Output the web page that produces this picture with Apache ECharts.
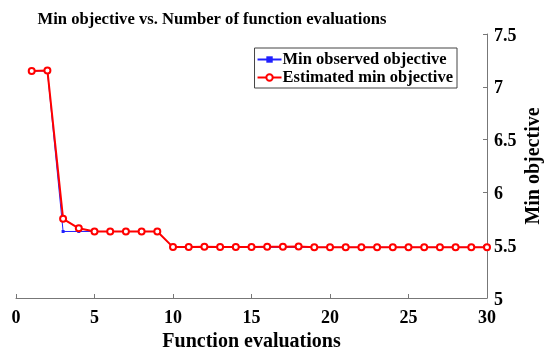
<!DOCTYPE html>
<html>
<head>
<meta charset="utf-8">
<script src="https://cdn.jsdelivr.net/npm/echarts@6/dist/echarts.min.js"></script>
<style>html,body{margin:0;padding:0;background:#fff}#c{width:550px;height:359px}</style>
</head>
<body>
<div id="c"></div>
<script>
const evals = [1,2,3,4,5,6,7,8,9,10,11,12,13,14,15,16,17,18,19,20,21,22,23,24,25,26,27,28,29,30];
const minObserved = [7.15,7.15,5.63,5.63,5.63,5.63,5.63,5.63,5.63,5.48,5.48,5.48,5.48,5.48,5.48,5.48,5.48,5.48,5.48,5.48,5.48,5.48,5.48,5.48,5.48,5.48,5.48,5.48,5.48,5.48];
const estimatedMin = [7.15,7.155,5.75,5.66,5.63,5.63,5.63,5.63,5.63,5.482,5.483,5.485,5.482,5.482,5.483,5.485,5.485,5.487,5.481,5.481,5.481,5.481,5.481,5.48,5.48,5.48,5.48,5.48,5.48,5.48];
const xTicks = [0,5,10,15,20,25,30];
const yTicks = [5,5.5,6,6.5,7,7.5];

const font = '"Liberation Serif","Times New Roman",serif';
const chart = echarts.init(document.getElementById('c'), null, {renderer:'canvas'});
chart.setOption({
  animation:false,
  title:{text:'Min objective vs. Number of function evaluations', left:207, top:6, textAlign:'center',
    textStyle:{fontFamily:font, fontWeight:'bold', fontSize:16.6, color:'#000'}},
  grid:{left:16, right:63, top:34, bottom:61, containLabel:false, outerBoundsMode:'none'},
  legend:{right:93, top:48, orient:'vertical', itemGap:1, itemWidth:24, itemHeight:8,
    borderColor:'#444', borderWidth:1, padding:[3,4,2,2], backgroundColor:'#fff',
    textStyle:{fontFamily:font, fontWeight:'bold', fontSize:16.5, color:'#000', padding:[0,0,0,-4]},
    data:['Min observed objective','Estimated min objective']},
  xAxis:{type:'value', min:xTicks[0], max:xTicks[xTicks.length-1], interval:5,
    name:'Function evaluations', nameLocation:'middle', nameGap:34, nameMoveOverlap:false,
    nameTextStyle:{fontFamily:font, fontWeight:'bold', fontSize:20, color:'#000'},
    axisLine:{show:true, onZero:false, lineStyle:{color:'#777'}},
    axisTick:{show:true, inside:true, length:4, lineStyle:{color:'#777'}},
    axisLabel:{fontFamily:font, fontWeight:'bold', fontSize:18, color:'#000', margin:11},
    splitLine:{show:false}},
  yAxis:{type:'value', position:'right', min:yTicks[0], max:yTicks[yTicks.length-1], interval:0.5,
    name:'Min objective', nameLocation:'middle', nameGap:37, nameRotate:90, nameMoveOverlap:false,
    nameTextStyle:{fontFamily:font, fontWeight:'bold', fontSize:20, color:'#000'},
    axisLine:{show:true, onZero:false, lineStyle:{color:'#777'}},
    axisTick:{show:true, inside:true, length:4, lineStyle:{color:'#777'}},
    axisLabel:{fontFamily:font, fontWeight:'bold', fontSize:18, color:'#000', margin:7,
      verticalAlign:'top', padding:[-7,0,0,0]},
    splitLine:{show:false}},
  series:[
    {name:'Min observed objective', type:'line', data:evals.map((x,i)=>[x,minObserved[i]]),
      symbol:'rect', symbolSize:3, lineStyle:{color:'#2020ff', width:1}, itemStyle:{color:'#2020ff'}, z:2},
    {name:'Estimated min objective', type:'line', data:evals.map((x,i)=>[x,estimatedMin[i]]),
      symbol:'emptyCircle', symbolSize:6, showAllSymbol:true,
      lineStyle:{color:'#ff0000', width:2}, itemStyle:{color:'#ff0000', borderColor:'#ff0000', borderWidth:2}, z:3}
  ]
});
</script>
</body>
</html>
